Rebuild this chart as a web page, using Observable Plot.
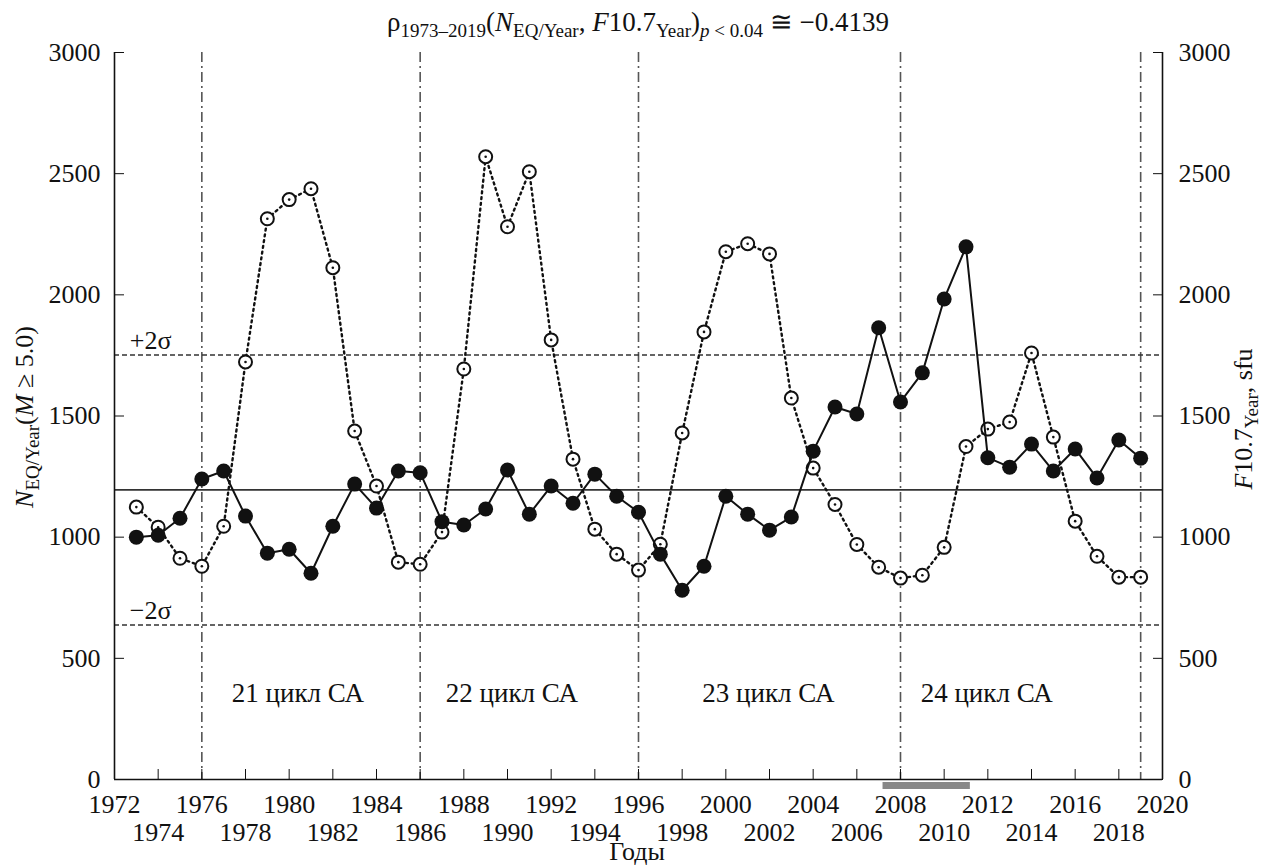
<!DOCTYPE html>
<html><head><meta charset="utf-8">
<script src="https://cdn.jsdelivr.net/npm/d3@7"></script>
<script src="https://cdn.jsdelivr.net/npm/@observablehq/plot@0.6"></script>
<style>html,body{margin:0;padding:0;background:#fff}svg{display:block}svg text{font-family:"Liberation Serif",serif !important}</style>
</head><body><div id="chart"></div>
<script>
// ---- data ----
const years = d3.range(1973, 2020);
const nEQ = [1000,1008,1078,1240,1273,1087,934,950,851,1045,1219,1120,1273,1266,1064,1050,1116,1277,1095,1211,1140,1260,1169,1103,930,781,880,1169,1095,1029,1083,1355,1537,1508,1864,1558,1678,1983,2198,1328,1289,1384,1273,1364,1244,1401,1326];
const f107 = [1124,1041,913,880,1045,1723,2314,2393,2438,2112,1438,1211,897,888,1021,1694,2570,2281,2508,1814,1322,1033,930,864,971,1430,1847,2178,2211,2169,1574,1285,1135,970,876,831,843,958,1374,1446,1475,1760,1413,1066,921,835,835];
const meanLevel = [1195];
const sigmaLevels = [1752, 638];
const sigmaLabels = ["+2σ", "−2σ"];
const cycleBounds = [1976, 1986, 1996, 2008, 2019];
const cycleLabels = ["21 цикл СА", "22 цикл СА", "23 цикл СА", "24 цикл СА"];
const cycleLabelX = [1980.4, 1990.2, 2001.95, 2011.95];
const cycleLabelY = 355;
const minimumPeriod = [2007.2, 2011.2];
const yTicks = [0, 500, 1000, 1500, 2000, 2500, 3000];
const xTicksRow1 = d3.range(1972, 2021, 4);
const xTicksRow2 = d3.range(1974, 2019, 4);

const rows = years.map((y, i) => ({year: y, n: nEQ[i], f: f107[i]}));

const INK = "#111";
const FS = 26;

const plot = Plot.plot({
  width: 1262, height: 867,
  marginLeft: 114, marginRight: 100, marginTop: 52, marginBottom: 88,
  x: {domain: [1972, 2020]},
  y: {domain: [0, 3000]},
  style: {fontFamily: "Liberation Serif", fontSize: FS + "px", color: INK, background: "#fff"},
  marks: [
    // cycle boundaries
    Plot.ruleX(cycleBounds, {stroke: "#555", strokeWidth: 1.6, strokeDasharray: "10,4,2,4"}),
    // levels
    Plot.ruleY(meanLevel, {stroke: "#333", strokeWidth: 1.8}),
    Plot.ruleY(sigmaLevels, {stroke: "#333", strokeWidth: 1.5, strokeDasharray: "5,3"}),
    Plot.text(sigmaLevels, {x: 1972.7, y: d => d, text: (d, i) => sigmaLabels[i], textAnchor: "start", lineAnchor: "bottom", dy: -6, fontSize: FS, fill: INK}),
    // cycle labels
    Plot.text(cycleLabels, {x: (d, i) => cycleLabelX[i], y: cycleLabelY, text: d => d, fontSize: 27, fill: INK}),
    // F10.7 dotted series
    Plot.line(rows, {x: "year", y: "f", stroke: INK, strokeWidth: 2.4, strokeDasharray: "2,3.8"}),
    Plot.dot(rows, {x: "year", y: "f", r: 6.5, fill: "#fff", stroke: INK, strokeWidth: 2}),
    Plot.dot(rows, {x: "year", y: "f", r: 1.3, fill: INK}),
    // N_EQ solid series
    Plot.line(rows, {x: "year", y: "n", stroke: INK, strokeWidth: 2}),
    Plot.dot(rows, {x: "year", y: "n", r: 7.5, fill: INK}),
    // minimum period bar
    Plot.ruleY([0], {x1: minimumPeriod[0], x2: minimumPeriod[1], stroke: "#888", strokeWidth: 7, dy: 6}),
    // frame (no top)
    Plot.ruleX([1972, 2020], {stroke: INK, strokeWidth: 1.6}),
    Plot.ruleY([0], {stroke: INK, strokeWidth: 1.6}),
    // axes
    Plot.axisY({anchor: "left", ticks: yTicks, tickSize: -10, tickPadding: 24, tickFormat: d => String(d), label: null, fontSize: FS}),
    Plot.axisY({anchor: "right", ticks: yTicks, tickSize: -10, tickPadding: 26, tickFormat: d => String(d), label: null, fontSize: FS}),
    Plot.axisX({anchor: "bottom", ticks: d3.range(1972, 2021, 2), tickSize: -10, text: null, label: null}),
    Plot.axisX({anchor: "bottom", ticks: xTicksRow1, tickSize: 0, tickPadding: 15, tickFormat: d => String(d), label: null, fontSize: FS}),
    Plot.axisX({anchor: "bottom", ticks: xTicksRow2, tickSize: 0, tickPadding: 43, tickFormat: d => String(d), label: null, fontSize: FS})
  ]
});
document.getElementById("chart").appendChild(plot);

// ---- rich text (subscripts / italics) ----
const svg = d3.select(plot);
function rich(x, y, parts, {size = FS, subSize = 19, shift = 6, rotate = 0} = {}) {
  const t = svg.append("text")
    .attr("font-size", size).attr("fill", INK)
    .attr("text-anchor", "middle").style("white-space", "pre")
    .attr("transform", `translate(${x},${y}) rotate(${rotate})`);
  let cur = 0;
  for (const [s, o = {}] of parts) {
    const want = o.sub ? shift : 0;
    const ts = t.append("tspan").text(s).attr("dy", want - cur);
    cur = want;
    if (o.sub) ts.attr("font-size", subSize);
    if (o.it) ts.attr("font-style", "italic");
  }
}
const S = {sub: true}, I = {it: true};
rich(638, 31, [["ρ"], ["1973–2019", S], ["("], ["N", I], ["EQ/Year", S], [", "], ["F", I], ["10.7"], ["Year", S], [")"], ["p", {sub: true, it: true}], [" < 0.04", S], [" ≅ −0.4139"]], {size: 27});
rich(33, 417, [["N", I], ["EQ/Year", S], ["("], ["M", I], [" ≥ 5.0)"]], {rotate: -90});
rich(1252, 419, [["F", I], ["10.7"], ["Year", S], [", sfu"]], {rotate: -90});
rich(637, 860, [["Годы"]]);
</script>
</body></html>
